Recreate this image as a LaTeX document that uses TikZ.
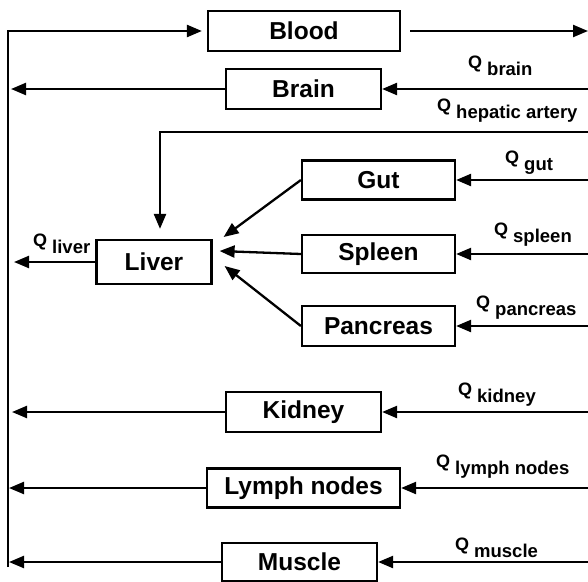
\documentclass[tikz,border=0pt]{standalone}
\usepackage{fontspec}
\setmainfont{Liberation Sans}
\usetikzlibrary{positioning, arrows.meta, calc}

\newcommand{\flowlbl}[1]{\raisebox{7pt}{\fontsize{18}{18}\selectfont Q}\hspace{5pt}{\fontsize{18.5}{19}\selectfont #1}}

\begin{document}
\begin{tikzpicture}[
  x=1pt, y=-1pt,
  organ/.style={draw, line width=2.2pt, minimum height=40pt, inner sep=0pt,
                font=\fontsize{24.5}{27}\selectfont\bfseries},
  arr/.style={-{Triangle[length=15pt, width=12pt]}, line width=2.3pt},
  flow/.style={anchor=base west, inner sep=0pt, font=\bfseries},
]
\useasboundingbox (0,0) rectangle (588,581);

% Left collecting trunk and right rim
\coordinate (trunk) at (8,0);
\coordinate (rim) at (588,0);
\coordinate (trunktop) at (8,31);
\coordinate (trunkbot) at (8,567);
\coordinate (hep) at (588,132);

% Organs
\node[organ, minimum width=192pt] (blood) at (304,31) {Blood};
\node[organ, minimum width=155pt] (brain) at (303.5,89) {Brain};
\node[organ, minimum width=153pt, minimum height=39pt] (gut) at (378.5,180) {Gut};
\node[organ, minimum width=115pt, minimum height=44pt] (liver) at (154,262) {Liver};
\node[organ, minimum width=153pt, minimum height=38pt] (spleen) at (378.5,254) {Spleen};
\node[organ, minimum width=153pt] (pancreas) at (378.5,326) {Pancreas};
\node[organ, minimum width=155pt] (kidney) at (303.5,412) {Kidney};
\node[organ, minimum width=193pt, minimum height=39pt] (lymph) at (303.5,488) {Lymph nodes};
\node[organ, minimum width=155pt, minimum height=38pt] (muscle) at (299.5,562) {Muscle};

% Blood flows
\node[flow] (qbrain) at (468,75) {\flowlbl{brain}};
\node[flow] (qhep) at (437,118) {\flowlbl{hepatic artery}};
\node[flow] (qgut) at (505,170) {\flowlbl{gut}};
\node[flow] (qspleen) at (494,242) {\flowlbl{spleen}};
\node[flow] (qpancreas) at (476,315) {\flowlbl{pancreas}};
\node[flow] (qkidney) at (458,402) {\flowlbl{kidney}};
\node[flow] (qlymph) at (436,474) {\flowlbl{lymph nodes}};
\node[flow] (qmuscle) at (455,557) {\flowlbl{muscle}};
\node[flow] (qliver) at (33,253) {\flowlbl{liver}};

% Venous return to blood
\draw[arr, shorten >=5pt] (trunkbot) -- (trunktop) -- (blood.west);
\draw[arr, shorten <=9pt] (blood.east) -- (blood.east -| rim);

% Arterial inflow from the right
\draw[arr] (brain.east -| rim) -- (brain.east);
\draw[arr] (gut.east -| rim) -- (gut.east);
\draw[arr] (spleen.east -| rim) -- (spleen.east);
\draw[arr] (pancreas.east -| rim) -- (pancreas.east);
\draw[arr] (kidney.east -| rim) -- (kidney.east);
\draw[arr] (lymph.east -| rim) -- (lymph.east);
\draw[arr] (muscle.east -| rim) -- (muscle.east);
\draw[arr, shorten >=10pt] (hep) -| ([xshift=6pt]liver.north);

% Portal flow into liver
\draw[arr] (gut.west) -- ($(liver.east)+(11,-25)$);
\draw[arr] (spleen.west) -- ($(liver.east)+(7,-11)$);
\draw[arr] (pancreas.west) -- ($(liver.east)+(12,4)$);

% Outflow to the trunk
\draw[arr, shorten >=3pt] (brain.west) -- (brain.west -| trunk);
\draw[arr, shorten >=6pt] (liver.west) -- (liver.west -| trunk);
\draw[arr, shorten >=4pt] (kidney.west) -- (kidney.west -| trunk);
\draw[arr, shorten >=1pt] (lymph.west) -- (lymph.west -| trunk);
\draw[arr, shorten >=1pt] (muscle.west) -- (muscle.west -| trunk);

\end{tikzpicture}
\end{document}
